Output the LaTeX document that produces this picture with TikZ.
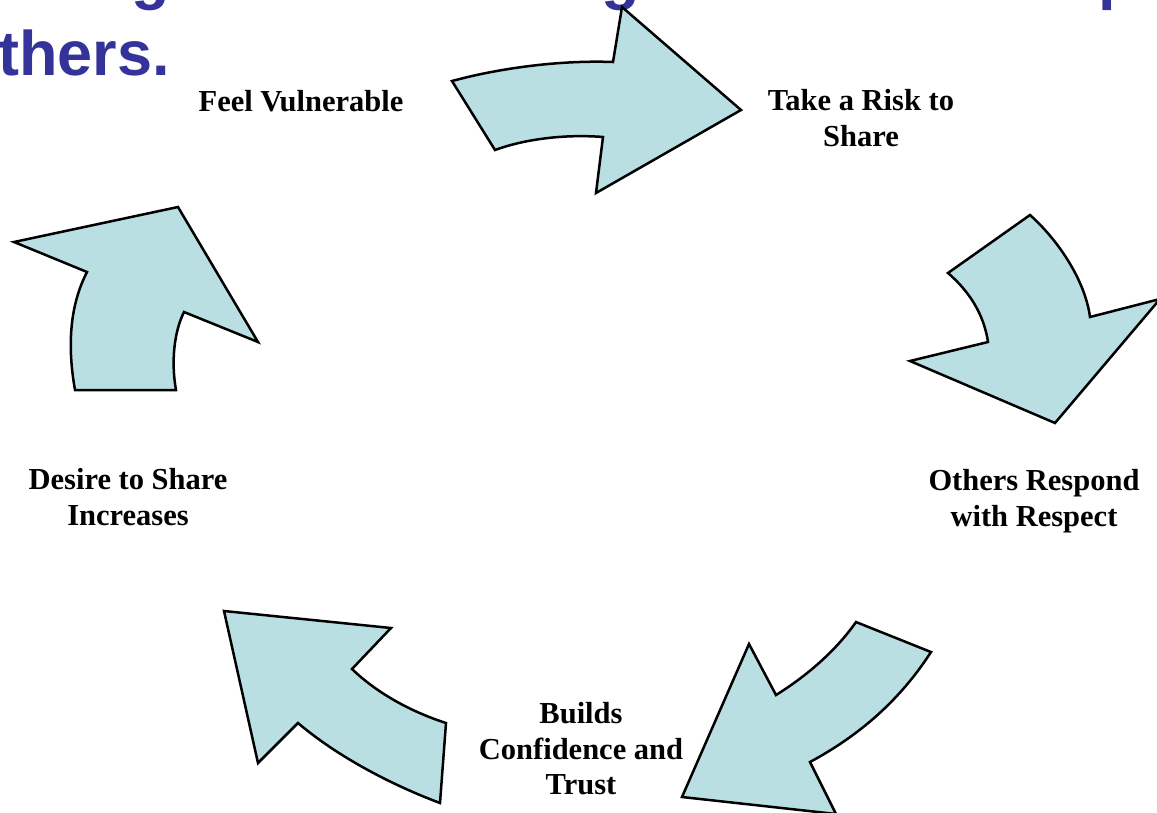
\documentclass[tikz,border=0pt]{standalone}
\usepackage{fontspec}
\setmainfont{Liberation Serif}
\newfontfamily\titlefont{Liberation Sans}
\definecolor{titleblue}{HTML}{333399}
\definecolor{arrowfill}{HTML}{BADFE3}
\begin{document}
\begin{tikzpicture}[x=1pt,y=-1pt,
  cyclearrow/.style={fill=arrowfill,draw=black,line width=2.5pt,line join=miter},
  steplabel/.style={font=\fontsize{30.5}{35.5}\selectfont\bfseries,align=center,inner sep=0pt},
  titletext/.style={font=\titlefont\fontsize{63}{76}\selectfont\bfseries,text=titleblue,inner sep=0pt}]
\useasboundingbox (0,0) rectangle (1157,812);
\clip (0,0) rectangle (1157,812);

% title, running off the top edge
\node[titletext,anchor=base west] (t1) at (131,-3) {g};
\node[titletext,anchor=base west] (t2) at (601,-3) {g};
\node[titletext,anchor=base west] (t3) at (1098,-3) {p};
\node[titletext,anchor=base west] (t4) at (-2,75) {thers.};

% the five curved block arrows of the cycle
\path[cyclearrow] (452,81) .. controls (500,68) and (560,60) .. (613,62)
  -- (622,7) -- (741,110) -- (596,193) -- (603,137)
  .. controls (565,134) and (525,139) .. (495,150) -- cycle;

\path[cyclearrow] (1030,215) .. controls (1058,240) and (1085,280) .. (1090,317)
  -- (1160,299) -- (1055,423) -- (910,361) -- (988,342)
  .. controls (984,315) and (970,292) .. (948,273) -- cycle;

\path[cyclearrow] (856,622) -- (931,652)
  .. controls (900,700) and (860,735) .. (810,762)
  -- (836,814) -- (682,797) -- (749,644) -- (776,695)
  .. controls (805,677) and (835,652) .. (856,622) -- cycle;

\path[cyclearrow] (224,611) -- (391,628) -- (352,669)
  .. controls (378,694) and (412,712) .. (446,723)
  -- (440,803) .. controls (392,785) and (338,757) .. (298,723)
  -- (258,763) -- cycle;

\path[cyclearrow] (75,390) .. controls (67,345) and (70,305) .. (87,272)
  -- (14,242) -- (178,207) -- (258,342) -- (184,312)
  .. controls (174,332) and (171,362) .. (176,390) -- cycle;

% step labels
\node[steplabel] (feel) at (301,101) {Feel Vulnerable};
\node[steplabel] (risk) at (861,118) {Take a Risk to\\Share};
\node[steplabel] (respond) at (1034,501) {Others Respond\\with Respect};
\node[steplabel] (trust) at (581,749) {Builds\\Confidence and\\Trust};
\node[steplabel] (desire) at (128,497) {Desire to Share\\Increases};
\end{tikzpicture}
\end{document}
